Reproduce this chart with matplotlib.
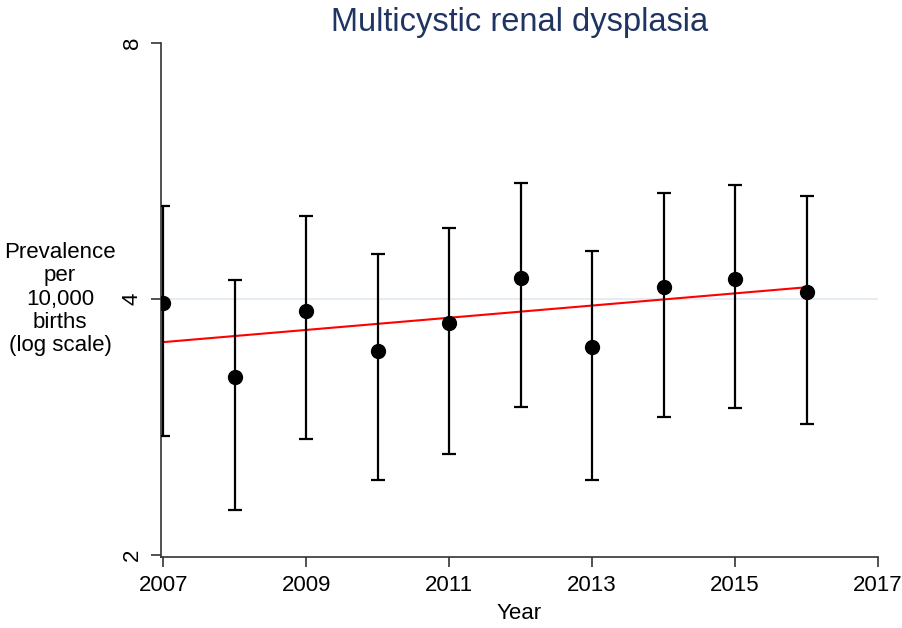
import numpy as np
import matplotlib
matplotlib.use("Agg")
import matplotlib.pyplot as plt
from matplotlib.ticker import FixedLocator, NullLocator

plt.rcParams['font.family'] = ['Liberation Sans', 'DejaVu Sans']

# Prevalencia por 10.000 nacimientos, con intervalo de confianza
years = [2007, 2008, 2009, 2010, 2011, 2012, 2013, 2014, 2015, 2016]
prevalence = [3.96, 3.24, 3.87, 3.48, 3.75, 4.24, 3.51, 4.13, 4.22, 4.08]
ci_upper = [5.14, 4.21, 5.01, 4.52, 4.85, 5.47, 4.56, 5.33, 5.45, 5.29]
ci_lower = [2.76, 2.26, 2.74, 2.45, 2.63, 2.99, 2.45, 2.91, 2.98, 2.85]

# Recta de tendencia (extremos)
trend_years = [2007, 2016]
trend_values = [3.56, 4.13]

y_ticks = [2, 4, 8]
x_ticks = [2007, 2009, 2011, 2013, 2015, 2017]

fig = plt.figure(figsize=(9.03, 6.28), dpi=100)
ax = fig.add_axes([161 / 903, 1 - 557 / 628, (878 - 161) / 903, (557 - 43) / 628])

prev = np.array(prevalence)
err = [prev - np.array(ci_lower), np.array(ci_upper) - prev]

ax.axhline(4, color='#e6ecf1', linewidth=1.5, zorder=0)
ax.plot(trend_years, trend_values, color='#ff0000', linewidth=1.5, zorder=2)
ax.errorbar(years, prevalence, yerr=err, fmt='o', color='black', markersize=10,
            elinewidth=1.6, capsize=5, capthick=1.6, zorder=3)

ax.set_yscale('log')
ax.set_ylim(1.99, 8)
ax.set_xlim(2006.97, 2017)
ax.yaxis.set_major_locator(FixedLocator(y_ticks))
ax.yaxis.set_minor_locator(NullLocator())
ax.set_yticklabels([str(t) for t in y_ticks], rotation=90, va='center')
ax.set_xticks(x_ticks)
ax.set_xticklabels([str(t) for t in x_ticks])

for s in ['top', 'right']:
    ax.spines[s].set_visible(False)
for s in ['left', 'bottom']:
    ax.spines[s].set_color('#333333')
    ax.spines[s].set_linewidth(1.2)

ax.tick_params(axis='both', labelsize=16, length=7, width=1.2, color='#333333')
ax.tick_params(axis='x', pad=6)
ax.tick_params(axis='y', pad=6)

ax.set_xlabel("Year", fontsize=16, labelpad=5)
fig.text(60 / 903, 1 - 299 / 628, "Prevalence\nper\n10,000\nbirths\n(log scale)",
         ha='center', va='center', fontsize=16, linespacing=1.15)
ax.set_title("Multicystic renal dysplasia", fontsize=23.5, color='#1f3461', pad=9)

fig.savefig("out.png", dpi=100)
